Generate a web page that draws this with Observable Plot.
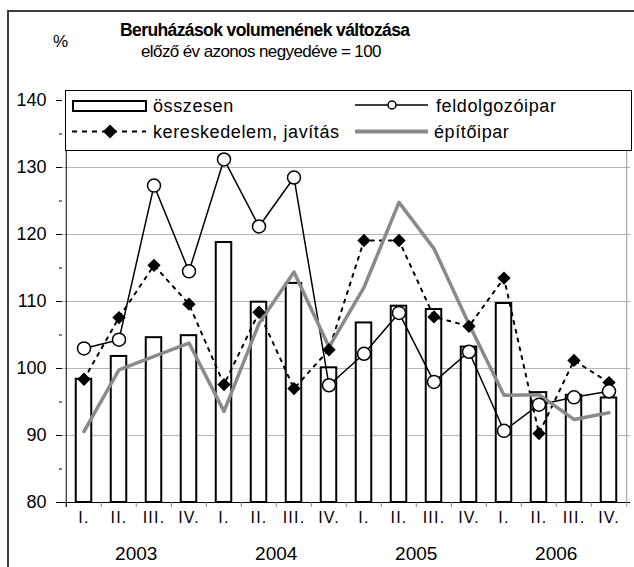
<!DOCTYPE html>
<html>
<head>
<meta charset="utf-8">
<script src="https://cdn.jsdelivr.net/npm/d3@7"></script>
<script src="https://cdn.jsdelivr.net/npm/@observablehq/plot@0.6"></script>
<style>
  html, body { margin: 0; padding: 0; background: #fff; overflow: hidden; }
  #wrap { position: relative; width: 634px; height: 567px; overflow: hidden; font-family: "Liberation Sans", Arial, sans-serif; }
  #frame { position: absolute; left: 7px; top: 10px; width: 700px; height: 700px; border-top: 2px solid #3c3c3c; border-left: 2px solid #3c3c3c; }
  #chart { position: absolute; left: 0; top: 0; }
  .ttl { position: absolute; white-space: nowrap; color: #000; }
  #legend { position: absolute; left: 65px; top: 90px; }
  [aria-label="x-axis tick label"] text { letter-spacing: 1.2px; }
</style>
</head>
<body>
<div id="wrap">
  <div id="frame"></div>
  <div id="chart"></div>
  <div class="ttl" style="left:53px; top:32px; font-size:17px;">%</div>
  <div class="ttl" id="title" style="left:120px; top:20px; font-size:17.5px; font-weight:bold; letter-spacing:-0.6px;">Beruházások volumenének változása</div>
  <div class="ttl" id="subtitle" style="left:141px; top:42px; font-size:17px; letter-spacing:-0.6px;">előző év azonos negyedéve = 100</div>
  <div id="legend"></div>
</div>
<script>
const years = ["2003", "2004", "2005", "2006"];
const quarters = ["I.", "II.", "III.", "IV."];
const osszesen       = [98.4, 101.8, 104.6, 104.9, 118.8, 109.9, 112.7, 100.1, 106.8, 109.3, 108.8, 103.2, 109.7, 96.4, 96.0, 95.6];
const feldolgozoipar = [103.0, 104.3, 127.3, 114.5, 131.2, 121.2, 128.5, 97.5, 102.2, 108.3, 98.0, 102.5, 90.7, 94.6, 95.7, 96.6];
const kereskedelem   = [98.4, 107.6, 115.4, 109.6, 97.6, 108.4, 97.0, 102.8, 119.1, 119.1, 107.7, 106.3, 113.5, 90.3, 101.2, 97.9];
const epitoipar      = [90.6, 99.8, 101.8, 103.8, 93.6, 106.7, 114.4, 103.2, 112.1, 124.8, 117.9, 106.6, 96.0, 96.1, 92.4, 93.4];
const yTicks = [80, 90, 100, 110, 120, 130, 140];
const yMinor = [85, 95, 105, 115, 125, 135];
const gridTicks = [90, 100, 110, 120, 130];
const seriesNames = ["összesen", "feldolgozóipar", "kereskedelem, javítás", "építőipar"];

const cats = years.flatMap(y => quarters.map(q => `${y} ${q}`));
const rows = cats.map((c, i) => ({
  c, o: osszesen[i], f: feldolgozoipar[i], k: kereskedelem[i], e: epitoipar[i]
}));

const W = 634, H = 567, mL = 62, mR = 4, mT = 100, mB = 65;
const bw = (W - mL - mR) / cats.length;
const pxPerUnit = (H - mT - mB) / (140 - 80);
const tickLen = 5 / pxPerUnit;
const yTopBorder = 140 + 10 / pxPerUnit;

const chart = Plot.plot({
  width: W, height: H,
  marginLeft: mL, marginRight: mR, marginTop: mT, marginBottom: mB,
  style: { fontFamily: "Liberation Sans, Arial, sans-serif", background: "transparent", color: "#000" },
  x: { type: "band", domain: cats, padding: 0, axis: null, label: null },
  y: { domain: [80, 140], axis: null, label: null },
  marks: [
    Plot.ruleY(gridTicks, { stroke: "#b4b4b4", strokeWidth: 1 }),
    Plot.barY(rows, { x: "c", y1: 80, y2: "o", fill: "white", stroke: "black", strokeWidth: 2, insetLeft: 9.75, insetRight: 9.75 }),
    Plot.ruleY([80], { stroke: "black", strokeWidth: 1 }),
    Plot.ruleX(cats, { x: d => d, y1: 80, y2: 80 - tickLen, dx: -bw / 2, stroke: "#808080" }),
    Plot.ruleX([cats[cats.length - 1]], { x: d => d, y1: 80 - tickLen, y2: yTopBorder, dx: bw / 2, stroke: "#999" }),
    Plot.ruleX([cats[0]], { x: d => d, y1: 80 - tickLen, y2: yTopBorder, dx: -bw / 2, stroke: "black" }),
    Plot.lineY(rows, { x: "c", y: "f", stroke: "black", strokeWidth: 1.5 }),
    Plot.lineY(rows, { x: "c", y: "k", stroke: "black", strokeWidth: 2, strokeDasharray: "3,6" }),
    Plot.lineY(rows, { x: "c", y: "e", stroke: "#8a8a8a", strokeWidth: 3.5 }),
    Plot.dot(rows, { x: "c", y: "k", symbol: "diamond2", r: 6, fill: "black", stroke: "none" }),
    Plot.dot(rows, { x: "c", y: "f", r: 6.5, fill: "white", stroke: "black", strokeWidth: 1.5 }),
    Plot.axisY({ ticks: yTicks, tickSize: 6, tickPadding: 10, fontSize: 18, stroke: "black", label: null }),
    Plot.axisY({ ticks: yMinor, tickSize: 3, tickFormat: () => "", stroke: "black", label: null }),
    Plot.axisX({ tickSize: 0, tickPadding: 9, fontSize: 16, tickFormat: d => d.split(" ")[1], label: null }),
    Plot.text(years, { x: y => `${y} III.`, dx: -bw / 2, frameAnchor: "bottom", dy: 57, fontSize: 19 })
  ]
});
document.getElementById("chart").appendChild(chart);

// Legend
const ns = "http://www.w3.org/2000/svg";
const lg = document.createElementNS(ns, "svg");
lg.setAttribute("width", 567); lg.setAttribute("height", 61);
lg.style.fontFamily = "Liberation Sans, Arial, sans-serif";
function el(tag, attrs, text) {
  const e = document.createElementNS(ns, tag);
  for (const k in attrs) e.setAttribute(k, attrs[k]);
  if (text) e.textContent = text;
  lg.appendChild(e);
  return e;
}
el("rect", { x: 0.5, y: 0.5, width: 566, height: 60, fill: "white", stroke: "black", "stroke-width": 1 });
// row 1
el("rect", { x: 8, y: 11, width: 73, height: 10, fill: "white", stroke: "black", "stroke-width": 2 });
el("text", { x: 88, y: 21.5, "font-size": 18, "letter-spacing": 0.6 }, seriesNames[0]);
el("line", { x1: 290, x2: 363, y1: 15, y2: 15, stroke: "black", "stroke-width": 1.5 });
el("circle", { cx: 327, cy: 15, r: 4, fill: "white", stroke: "black", "stroke-width": 1.5 });
el("text", { x: 371, y: 21.5, "font-size": 18, "letter-spacing": 0.6 }, seriesNames[1]);
// row 2
el("line", { x1: 7, x2: 81, y1: 41.5, y2: 41.5, stroke: "black", "stroke-width": 2, "stroke-dasharray": "5,5" });
el("path", { d: "M45,34.5L52,41.5L45,48.5L38,41.5Z", fill: "black" });
el("text", { x: 88, y: 47.5, "font-size": 18, "letter-spacing": 0.6 }, seriesNames[2]);
el("line", { x1: 290, x2: 363, y1: 41.5, y2: 41.5, stroke: "#8a8a8a", "stroke-width": 4 });
el("text", { x: 369, y: 47.5, "font-size": 18, "letter-spacing": 0.6 }, seriesNames[3]);
document.getElementById("legend").appendChild(lg);
</script>
</body>
</html>
